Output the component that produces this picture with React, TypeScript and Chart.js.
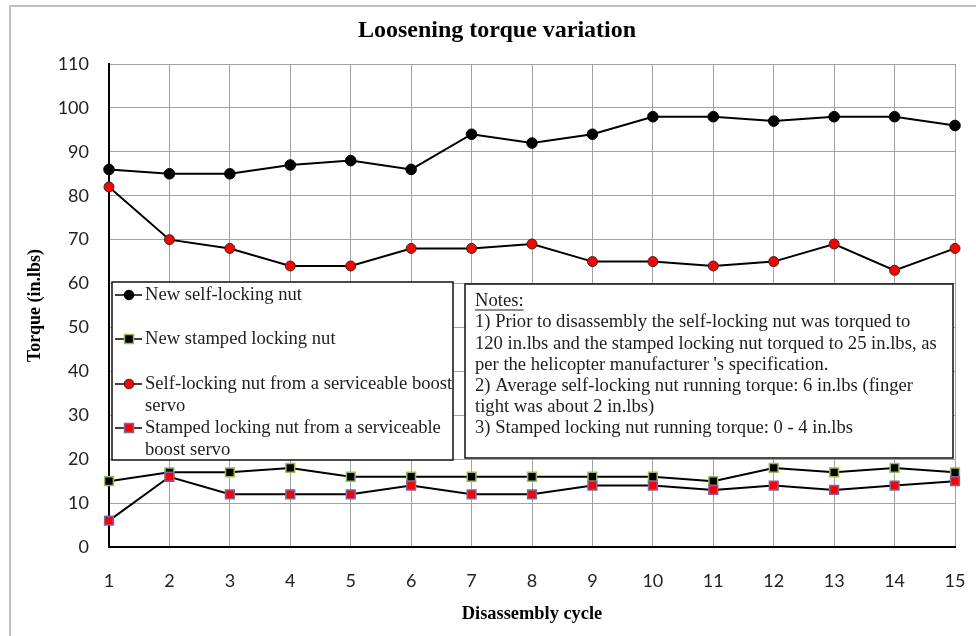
import React, { useEffect, useRef } from 'react';
import { Chart, registerables } from 'chart.js';

Chart.register(...registerables);

const cycles = ['1', '2', '3', '4', '5', '6', '7', '8', '9', '10', '11', '12', '13', '14', '15'];
const newSelfLocking = [86, 85, 85, 87, 88, 86, 94, 92, 94, 98, 98, 97, 98, 98, 96];
const newStamped = [15, 17, 17, 18, 16, 16, 16, 16, 16, 16, 15, 18, 17, 18, 17];
const servSelfLocking = [82, 70, 68, 64, 64, 68, 68, 69, 65, 65, 64, 65, 69, 63, 68];
const servStamped = [6, 16, 12, 12, 12, 14, 12, 12, 14, 14, 13, 14, 13, 14, 15];

const legendLines = [
  ['New self-locking nut'],
  ['New stamped locking nut'],
  ['Self-locking nut from a serviceable boost', 'servo'],
  ['Stamped locking nut from a serviceable', 'boost servo'],
];

const notesTitle = 'Notes:';
const notesLines = [
  '1) Prior to disassembly the self-locking nut was torqued to',
  '120 in.lbs and the stamped locking nut torqued to 25 in.lbs, as',
  "per the helicopter manufacturer 's specification.",
  '2) Average self-locking nut running torque: 6 in.lbs (finger',
  'tight was about 2 in.lbs)',
  '3) Stamped locking nut running torque: 0 - 4 in.lbs',
];

const chartTitle = 'Loosening torque variation';
const xTitle = 'Disassembly cycle';
const yTitle = 'Torque (in.lbs)';
const yMin = 0;
const yMax = 110;
const yStep = 10;

const SERIF = '"Liberation Serif", "Times New Roman", serif';
const SANS = 'Lato, "Open Sans", sans-serif';
const TEXT_COLOR = '#1e1e1e';

function drawMarker(ctx: CanvasRenderingContext2D, ds: any, x: number, y: number) {
  ctx.save();
  ctx.strokeStyle = '#000';
  ctx.lineWidth = 1.5;
  ctx.beginPath();
  ctx.moveTo(x - 14, y);
  ctx.lineTo(x + 13, y);
  ctx.stroke();
  ctx.fillStyle = ds.pointBackgroundColor;
  ctx.strokeStyle = ds.pointBorderColor;
  ctx.lineWidth = ds.pointBorderWidth;
  ctx.beginPath();
  if (ds.pointStyle === 'rect') {
    ctx.rect(x - 4.5, y - 4.5, 9, 9);
  } else {
    ctx.arc(x, y, 4.8, 0, Math.PI * 2);
  }
  ctx.fill();
  ctx.stroke();
  ctx.restore();
}

const framePlugin = {
  id: 'frame',
  beforeDraw(chart: any) {
    const ctx = chart.ctx as CanvasRenderingContext2D;
    ctx.save();
    ctx.strokeStyle = '#c2c2c2';
    ctx.lineWidth = 2;
    ctx.beginPath();
    ctx.moveTo(10, chart.height);
    ctx.lineTo(10, 6);
    ctx.lineTo(chart.width, 6);
    ctx.stroke();
    ctx.restore();
  },
};

const boxesPlugin = {
  id: 'boxes',
  afterDatasetsDraw(chart: any) {
    const ctx = chart.ctx as CanvasRenderingContext2D;
    ctx.save();
    // Legend box
    ctx.fillStyle = '#fff';
    ctx.strokeStyle = '#111';
    ctx.lineWidth = 1.5;
    ctx.fillRect(112, 282, 341, 178);
    ctx.strokeRect(112, 282, 341, 178);
    ctx.font = `18.6px ${SERIF}`;
    ctx.fillStyle = TEXT_COLOR;
    ctx.textBaseline = 'middle';
    ctx.textAlign = 'left';
    const entryY = [295, 339, 384, 428];
    chart.data.datasets.forEach((ds: any, i: number) => {
      const y = entryY[i];
      drawMarker(ctx, ds, 129, y);
      ctx.fillStyle = TEXT_COLOR;
      legendLines[i].forEach((line, j) => {
        ctx.fillText(line, 145, y + j * 21.8);
      });
    });

    // Notes box
    ctx.fillStyle = '#fff';
    ctx.strokeStyle = '#111';
    ctx.lineWidth = 1.5;
    ctx.fillRect(465, 284, 488, 174);
    ctx.strokeRect(465, 284, 488, 174);
    ctx.fillStyle = TEXT_COLOR;
    ctx.font = `18.6px ${SERIF}`;
    const nx = 475;
    const ny = 301.5;
    const step = 21.1;
    ctx.fillText(notesTitle, nx, ny);
    const w = ctx.measureText(notesTitle).width;
    ctx.strokeStyle = TEXT_COLOR;
    ctx.lineWidth = 1;
    ctx.beginPath();
    ctx.moveTo(nx, ny + 8.5);
    ctx.lineTo(nx + w, ny + 8.5);
    ctx.stroke();
    notesLines.forEach((line, i) => {
      ctx.fillText(line, nx, ny + (i + 1) * step);
    });
    ctx.restore();
  },
};

export default function App() {
  const ref = useRef<HTMLCanvasElement | null>(null);

  useEffect(() => {
    if (!ref.current) return;
    const chart = new Chart(ref.current, {
      type: 'line',
      data: {
        labels: cycles,
        datasets: [
          {
            label: legendLines[0].join(' '),
            data: newSelfLocking,
            borderColor: '#000',
            borderWidth: 2,
            pointStyle: 'circle',
            pointRadius: 5.3,
            pointBackgroundColor: '#000',
            pointBorderColor: '#000',
            pointBorderWidth: 1,
            order: 3,
          },
          {
            label: legendLines[1].join(' '),
            data: newStamped,
            borderColor: '#000',
            borderWidth: 2,
            pointStyle: 'rect',
            pointRadius: 6.2,
            pointBackgroundColor: '#000',
            pointBorderColor: '#9bbb59',
            pointBorderWidth: 1.5,
            order: 2,
          },
          {
            label: legendLines[2].join(' '),
            data: servSelfLocking,
            borderColor: '#000',
            borderWidth: 2,
            pointStyle: 'circle',
            pointRadius: 5,
            pointBackgroundColor: '#ff0000',
            pointBorderColor: '#2a2a2a',
            pointBorderWidth: 1,
            order: 1,
          },
          {
            label: legendLines[3].join(' '),
            data: servStamped,
            borderColor: '#000',
            borderWidth: 2,
            pointStyle: 'rect',
            pointRadius: 6.2,
            pointBackgroundColor: '#ff0000',
            pointBorderColor: '#8064a2',
            pointBorderWidth: 1.5,
            order: 0,
          },
        ],
      },
      options: {
        responsive: false,
        maintainAspectRatio: false,
        animation: false,
        devicePixelRatio: 1,
        layout: { autoPadding: false, padding: { left: 39, right: 21, top: 0, bottom: 0 } },
        plugins: {
          legend: { display: false },
          tooltip: { enabled: false },
          title: {
            display: true,
            text: chartTitle,
            color: '#000',
            font: { family: SERIF, size: 24, weight: 'bold' },
            padding: { top: 16, bottom: 19.2 },
          },
        },
        elements: { line: { tension: 0 } },
        scales: {
          x: {
            type: 'category',
            offset: false,
            afterFit: (scale: any) => {
              scale.height = 89;
              scale.paddingLeft = 0;
              scale.paddingRight = 0;
            },
            grid: { color: '#a3a3a3', lineWidth: 1, drawTicks: false },
            border: { color: '#000', width: 2 },
            ticks: {
              color: '#222',
              font: { family: SANS, size: 18 },
              padding: 23,
              maxRotation: 0,
              autoSkip: false,
            },
            title: {
              display: true,
              text: xTitle,
              color: '#000',
              font: { family: SERIF, size: 18.4, weight: 'bold' },
              padding: { top: 0, bottom: 11 },
            },
          },
          y: {
            min: yMin,
            max: yMax,
            afterFit: (scale: any) => {
              scale.width = 70;
            },
            grid: { color: '#a3a3a3', lineWidth: 1, drawTicks: false },
            border: { color: '#000', width: 2 },
            ticks: {
              stepSize: yStep,
              color: '#222',
              font: { family: SANS, size: 18 },
              padding: 20,
            },
            title: {
              display: true,
              text: yTitle,
              color: '#000',
              font: { family: SERIF, size: 18, weight: 'bold' },
              padding: { top: -14, bottom: 0 },
            },
          },
        },
      },
      plugins: [framePlugin, boxesPlugin],
    } as any);
    return () => chart.destroy();
  }, []);

  return (
    <div style={{ position: 'absolute', left: 0, top: 0, width: 976, height: 636, background: '#fff' }}>
      <canvas ref={ref} width={976} height={636} style={{ display: 'block', width: 976, height: 636 }} />
    </div>
  );
}
